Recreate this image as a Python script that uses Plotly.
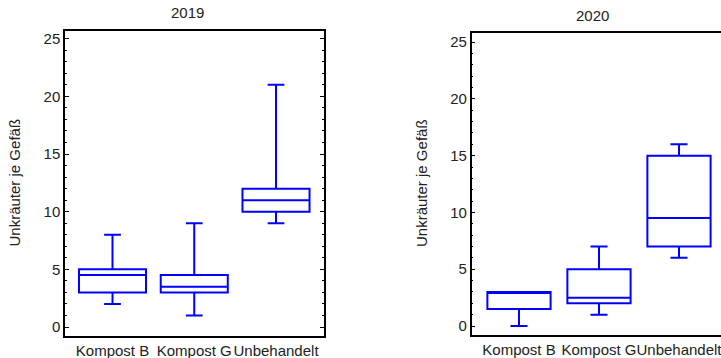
import plotly.graph_objects as go

categories = ["Kompost B", "Kompost G", "Unbehandelt"]

# 2019
low_2019 = [2, 1, 9]
q1_2019 = [3, 3, 10]
med_2019 = [4.5, 3.5, 11]
q3_2019 = [5, 4.5, 12]
high_2019 = [8, 9, 21]

# 2020
low_2020 = [0, 1, 6]
q1_2020 = [1.5, 2, 7]
med_2020 = [3, 2.5, 9.5]
q3_2020 = [3, 5, 15]
high_2020 = [3, 7, 16]

y_title = "Unkräuter je Gefäß"
FONT = "Liberation Sans, Arial, sans-serif"
BLUE = "#0000FF"
TXT = "#222222"

fig = go.Figure()

fig.add_trace(go.Box(
    x=categories, q1=q1_2019, median=med_2019, q3=q3_2019,
    lowerfence=low_2019, upperfence=high_2019,
    width=0.82, whiskerwidth=0.25,
    line=dict(color=BLUE, width=2), fillcolor="rgba(0,0,0,0)",
    boxpoints=False, xaxis="x", yaxis="y", showlegend=False,
))
fig.add_trace(go.Box(
    x=categories, q1=q1_2020, median=med_2020, q3=q3_2020,
    lowerfence=low_2020, upperfence=high_2020,
    width=0.79, whiskerwidth=0.27,
    line=dict(color=BLUE, width=2), fillcolor="rgba(0,0,0,0)",
    boxpoints=False, xaxis="x2", yaxis="y2", showlegend=False,
))

W, H = 721, 358

def yax(domain, rng, mirror, anchor):
    return dict(
        domain=domain, range=rng, anchor=anchor, automargin=False,
        tickmode="array", tickvals=[0, 5, 10, 15, 20, 25],
        ticks="inside", ticklen=4, tickwidth=1, tickcolor="black",
        minor=dict(dtick=1, tick0=0, ticks="inside", ticklen=2, tickcolor="black", tickwidth=1),
        showline=True, linecolor="black", linewidth=1.5, mirror=mirror,
        showgrid=False, zeroline=False,
        tickfont=dict(family=FONT, size=15, color=TXT),
    )

def xax(domain, rng, anchor):
    return dict(
        domain=domain, range=rng, anchor=anchor, automargin=False, type="category",
        tickangle=0,
        showline=True, linecolor="black", linewidth=1.5, mirror=True,
        ticks="", showgrid=False, zeroline=False,
        tickfont=dict(family=FONT, size=15, color=TXT),
    )

def ann(text, x, y, angle=0):
    return dict(text=text, x=x / W, y=1 - y / H, xref="paper", yref="paper",
                xanchor="center", yanchor="middle", showarrow=False, textangle=angle,
                font=dict(family=FONT, size=15, color=TXT))

fig.update_layout(
    width=W, height=H,
    margin=dict(l=0, r=0, t=0, b=0, autoexpand=False),
    paper_bgcolor="white", plot_bgcolor="white",
    xaxis=xax([65 / W, 324 / W], [-0.581, 2.587], "y"),
    yaxis=yax([22 / H, 327 / H], [-0.78, 25.67], "ticks", "x"),
    xaxis2=xax([471.7 / W, 1.0], [-0.591, 2.525], "y2"),
    yaxis2=yax([23 / H, 324.7 / H], [-0.79, 25.77], False, "x2"),
    annotations=[
        ann("2019", 187.5, 12.7),
        ann("2020", 592, 15),
        ann(y_title, 14, 182.5, -90),
        ann(y_title, 421.5, 183.5, -90),
    ],
)

fig.write_html("out.html", config={"displayModeBar": False},
               post_script="document.body.style.margin='0';")
